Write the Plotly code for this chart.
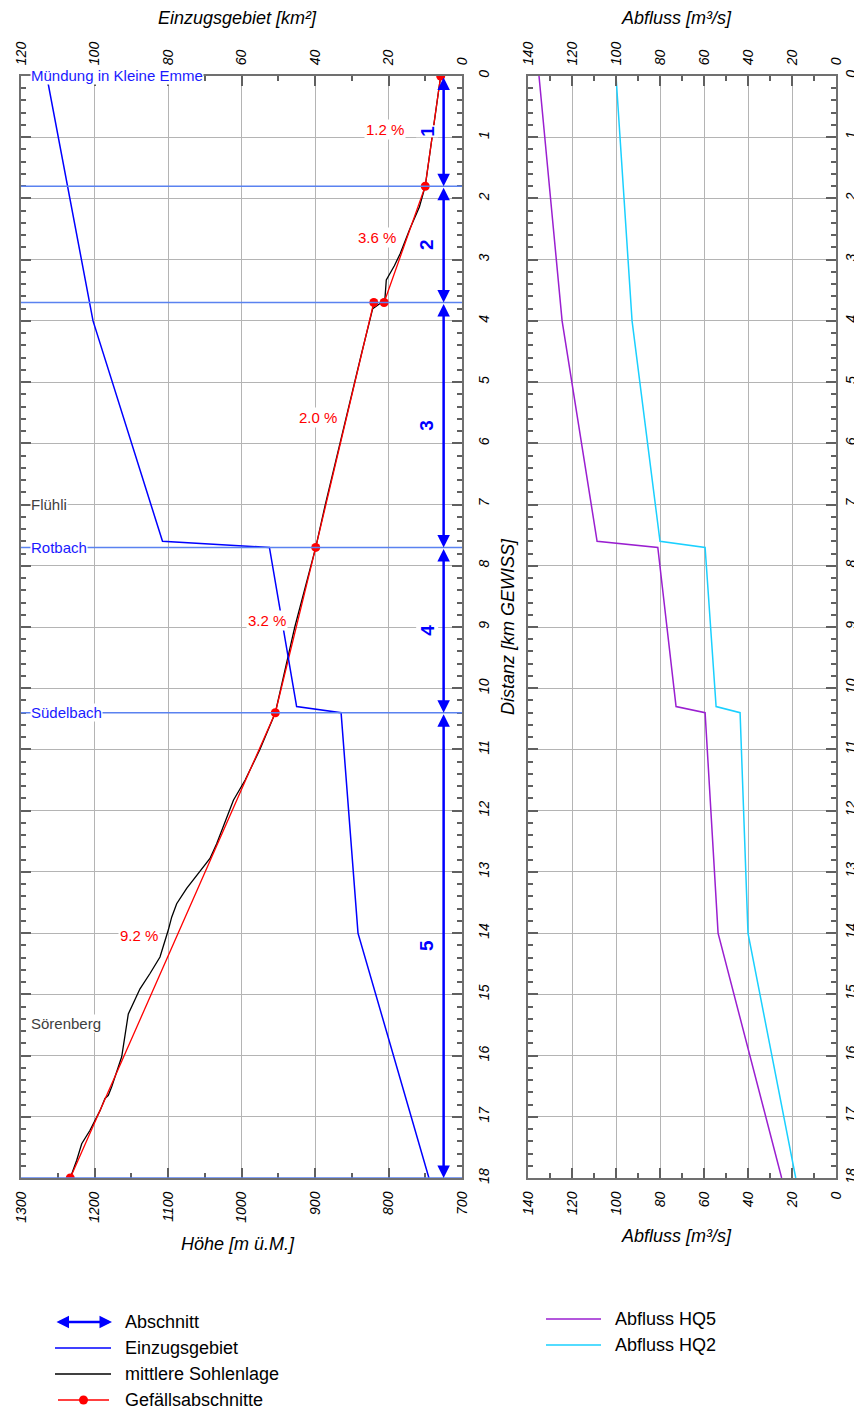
import plotly.graph_objects as go

# page body has an 8px margin: figure occupies 8..862 x 8..1414 of the window
OFF = 8
W, H = 862 - OFF, 1414 - OFF
FONT = "Liberation Sans, Arial, sans-serif"

# ---------------- data ----------------
area_km = [0, 4.0, 7.6, 7.7, 10.3, 10.4, 14.0, 18.0]
area_km2 = [113.0, 100.4, 81.5, 52.4, 45.0, 32.9, 28.3, 9.0]

bed_km = [0, 0.5, 1.0, 1.5, 1.8, 2.14, 2.5, 2.9, 3.1, 3.33, 3.66, 3.72, 3.8,
          4.5, 5.0, 5.5, 5.8, 6.3, 7.0, 7.7, 8.5, 9.0, 9.5, 10.0, 10.4, 11.0,
          11.5, 11.83, 12.54, 12.78, 13.06, 13.27, 13.52, 13.74, 13.95, 14.12,
          14.39, 14.66, 14.91, 15.32, 15.64, 16.02, 16.51, 16.65, 16.70, 16.90,
          17.22, 17.44, 17.71, 18.0]
bed_h = [729, 735, 741, 746.5, 750, 758, 771, 784, 792, 803, 805, 812, 821.5,
         836, 846, 857, 863, 873, 886, 899, 916, 927.5, 937, 946, 954, 975,
         995, 1011, 1033.8, 1042.9, 1061, 1074.6, 1088.2, 1095, 1099.6, 1104.1,
         1110.9, 1124.5, 1138.1, 1154, 1158.5, 1163, 1176.6, 1181.2, 1185.7, 1192.5,
         1206.1, 1217.4, 1224.2, 1233]

grad_km = [0, 1.8, 3.7, None, 3.7, 7.7, 10.4, 18.0]
grad_h = [729, 750, 806, None, 820, 899, 954, 1233]
grad_labels = ["1.2 %", "3.6 %", "2.0 %", "3.2 %", "9.2 %"]
grad_label_km = [0.88, 2.63, 5.57, 8.9, 14.04]
grad_label_h = [805, 816, 896, 965, 1140]

section_bounds = [0, 1.8, 3.7, 7.7, 10.4, 18.0]
section_names = ["1", "2", "3", "4", "5"]
arrow_h = 725
section_label_h = 748

trib_km = [1.8, 3.7, 7.7, 10.4, 18.0]

places = ["Mündung in Kleine Emme", "Flühli", "Rotbach", "Südelbach", "Sörenberg"]
place_km = [0, 7.0, 7.7, 10.4, 15.47]
place_colors = ["#1a1aff", "#404040", "#1a1aff", "#1a1aff", "#404040"]

q_km = [0, 4.0, 7.6, 7.7, 10.3, 10.4, 14.0, 18.0]
hq5 = [135, 124.5, 108.6, 81.0, 72.7, 59.5, 53.6, 24.7]
hq2 = [100, 92.7, 80.0, 59.5, 54.5, 43.6, 40.0, 18.3]

h_ticks = [1300, 1200, 1100, 1000, 900, 800, 700]
a_ticks = [120, 100, 80, 60, 40, 20, 0]
q_ticks = [140, 120, 100, 80, 60, 40, 20, 0]

# ---------------- helpers (window pixels -> paper) ----------------
def px(x):
    return (x - OFF) / W

def py(y):
    return 1 - (y - OFF) / H

BLUE = "#0000ff"
TRIB = "#5a82f0"
RED = "#ff0000"
PURPLE = "#9a1fd0"
CYAN = "#1ad0ff"
GRID = "#b4b4b4"
FRAME = "#707070"
TICKC = "#606060"

fig = go.Figure()

fig.add_trace(go.Scatter(x=area_km2, y=area_km, xaxis="x2", yaxis="y", mode="lines",
                         line=dict(color=BLUE, width=1.5), name="Einzugsgebiet", showlegend=False))
fig.add_trace(go.Scatter(x=bed_h, y=bed_km, xaxis="x", yaxis="y", mode="lines",
                         line=dict(color="black", width=1.3), name="mittlere Sohlenlage", showlegend=False))
fig.add_trace(go.Scatter(x=grad_h, y=grad_km, xaxis="x", yaxis="y", mode="lines+markers",
                         line=dict(color=RED, width=1.3), marker=dict(color=RED, size=9),
                         name="Gefällsabschnitte", showlegend=False, connectgaps=False))
fig.add_trace(go.Scatter(x=hq5, y=q_km, xaxis="x3", yaxis="y2", mode="lines",
                         line=dict(color=PURPLE, width=1.5), name="Abfluss HQ5", showlegend=False))
fig.add_trace(go.Scatter(x=hq2, y=q_km, xaxis="x4", yaxis="y2", mode="lines",
                         line=dict(color=CYAN, width=1.5), name="Abfluss HQ2", showlegend=False))

tickfont = dict(family=FONT, size=14, color="black", style="italic")
common_x = dict(ticks="inside", ticklen=10, tickcolor=TICKC, tickwidth=1.5,
                showline=True, linecolor=FRAME, linewidth=2, tickangle=-90,
                tickfont=tickfont, zeroline=False, ticklabelstandoff=6, automargin=False)
ydom = [py(1178), py(76)]

layout = dict(
    width=W, height=H, margin=dict(l=0, r=0, t=0, b=0, autoexpand=False),
    paper_bgcolor="white", plot_bgcolor="white", showlegend=False,
    xaxis=dict(domain=[px(21), px(462)], range=[1300, 700], anchor="y", side="bottom",
               tickvals=h_ticks, showgrid=True, gridcolor=GRID, gridwidth=1,
               minor=dict(ticks="inside", ticklen=5, dtick=50, tick0=700, tickcolor=TICKC, showgrid=False),
               **common_x),
    xaxis2=dict(overlaying="x", range=[120, 0], anchor="y", side="top",
                tickvals=a_ticks, showgrid=False,
                minor=dict(ticks="inside", ticklen=5, dtick=10, tick0=0, tickcolor=TICKC, showgrid=False),
                **common_x),
    xaxis3=dict(domain=[px(528), px(836)], range=[140, 0], anchor="y2", side="bottom",
                tickvals=q_ticks, showgrid=True, gridcolor=GRID, gridwidth=1,
                minor=dict(ticks="inside", ticklen=5, dtick=10, tick0=0, tickcolor=TICKC, showgrid=False),
                **common_x),
    xaxis4=dict(overlaying="x3", range=[140, 0], anchor="y2", side="top",
                tickvals=q_ticks, showgrid=False,
                minor=dict(ticks="inside", ticklen=5, dtick=10, tick0=0, tickcolor=TICKC, showgrid=False),
                **common_x),
)
common_y = dict(domain=ydom, range=[18, 0], side="right", ticks="inside", ticklen=10,
                tickcolor=TICKC, tickwidth=1.5, mirror="ticks", showline=True,
                linecolor=FRAME, linewidth=2, dtick=1, tick0=0, showgrid=True,
                gridcolor=GRID, gridwidth=1, tickangle=-90, tickfont=tickfont,
                zeroline=False, automargin=False,
                minor=dict(ticks="inside", ticklen=5, dtick=0.2, tick0=0, tickcolor=TICKC, showgrid=False))
layout["yaxis"] = dict(anchor="x", ticklabelstandoff=8, **common_y)
layout["yaxis2"] = dict(anchor="x3", ticklabelstandoff=1, **common_y)
fig.update_layout(**layout)

# tributary / reach boundary lines
for k in trib_km:
    fig.add_shape(type="line", xref="x domain", yref="y", x0=0, x1=1, y0=k, y1=k,
                  line=dict(color=TRIB, width=1.5), layer="above")

ann = []
# place labels
for name, k, c in zip(places, place_km, place_colors):
    ann.append(dict(xref="paper", yref="y", x=px(30), y=k, xanchor="left", yanchor="middle",
                    text=name, showarrow=False, bgcolor="white", borderpad=0,
                    font=dict(family=FONT, size=15, color=c)))
# gradient labels
for t, k, h in zip(grad_labels, grad_label_km, grad_label_h):
    ann.append(dict(xref="x", yref="y", x=h, y=k, xanchor="center", yanchor="middle", text=t,
                    showarrow=False, bgcolor="white", borderpad=1,
                    font=dict(family=FONT, size=15, color=RED)))
# section arrows
for i in range(len(section_names)):
    s0, s1 = section_bounds[i], section_bounds[i + 1]
    ann.append(dict(xref="x", yref="y", axref="x", ayref="y", x=arrow_h, y=s1, ax=arrow_h, ay=s0,
                    text="", showarrow=True, arrowside="end+start", arrowhead=2, arrowsize=1.0,
                    arrowwidth=2.5, arrowcolor=BLUE, standoff=0, startstandoff=0))
    ann.append(dict(xref="x", yref="y", x=section_label_h, y=(s0 + s1) / 2, xanchor="center",
                    yanchor="middle", text="<b>%s</b>" % section_names[i],
                    showarrow=False, textangle=-90, bgcolor="white", borderpad=0,
                    font=dict(family=FONT, size=19, color=BLUE)))

title_font = dict(family=FONT, size=18, color="black", style="italic")
titles = [("Einzugsgebiet [km²]", 237, 18, 0), ("Höhe [m ü.M.]", 238, 1244, 0),
          ("Abfluss [m³/s]", 676, 18, 0), ("Abfluss [m³/s]", 676, 1236, 0),
          ("Distanz [km GEWISS]", 508, 627, -90)]
for t, xx, yy, ang in titles:
    ann.append(dict(xref="paper", yref="paper", x=px(xx), y=py(yy), xanchor="center", yanchor="middle",
                    text=t, textangle=ang, showarrow=False, font=title_font))

# manual legends
leg_font = dict(family=FONT, size=18, color="black")
left_items = ["Abschnitt", "Einzugsgebiet", "mittlere Sohlenlage", "Gefällsabschnitte"]
left_y = [1322, 1348, 1374, 1400]
for t, yy in zip(left_items, left_y):
    ann.append(dict(xref="paper", yref="paper", x=px(123), y=py(yy), xanchor="left", yanchor="middle",
                    text=t, showarrow=False, font=leg_font))
ann.append(dict(xref="paper", yref="paper", x=px(112), y=py(1322), ax=-57, ay=0, text="",
                showarrow=True, arrowside="end+start", arrowhead=2, arrowsize=1.0, arrowwidth=2.5,
                arrowcolor=BLUE))
fig.add_shape(type="line", xref="paper", yref="paper", x0=px(55), x1=px(111), y0=py(1348), y1=py(1348),
              line=dict(color=BLUE, width=1.5))
fig.add_shape(type="line", xref="paper", yref="paper", x0=px(55), x1=px(111), y0=py(1374), y1=py(1374),
              line=dict(color="black", width=1.5))
fig.add_shape(type="line", xref="paper", yref="paper", x0=px(58), x1=px(109), y0=py(1400), y1=py(1400),
              line=dict(color=RED, width=1.5))
fig.add_shape(type="circle", xref="paper", yref="paper", x0=px(79), x1=px(88), y0=py(1404.5), y1=py(1395.5),
              fillcolor=RED, line=dict(color=RED, width=0))

right_items = ["Abfluss HQ5", "Abfluss HQ2"]
right_y = [1319, 1345]
right_c = [PURPLE, CYAN]
for t, yy, c in zip(right_items, right_y, right_c):
    ann.append(dict(xref="paper", yref="paper", x=px(613), y=py(yy), xanchor="left", yanchor="middle",
                    text=t, showarrow=False, font=leg_font))
    fig.add_shape(type="line", xref="paper", yref="paper", x0=px(546), x1=px(601), y0=py(yy), y1=py(yy),
                  line=dict(color=c, width=1.5))

fig.update_layout(annotations=ann)
fig.write_html("out.html")
